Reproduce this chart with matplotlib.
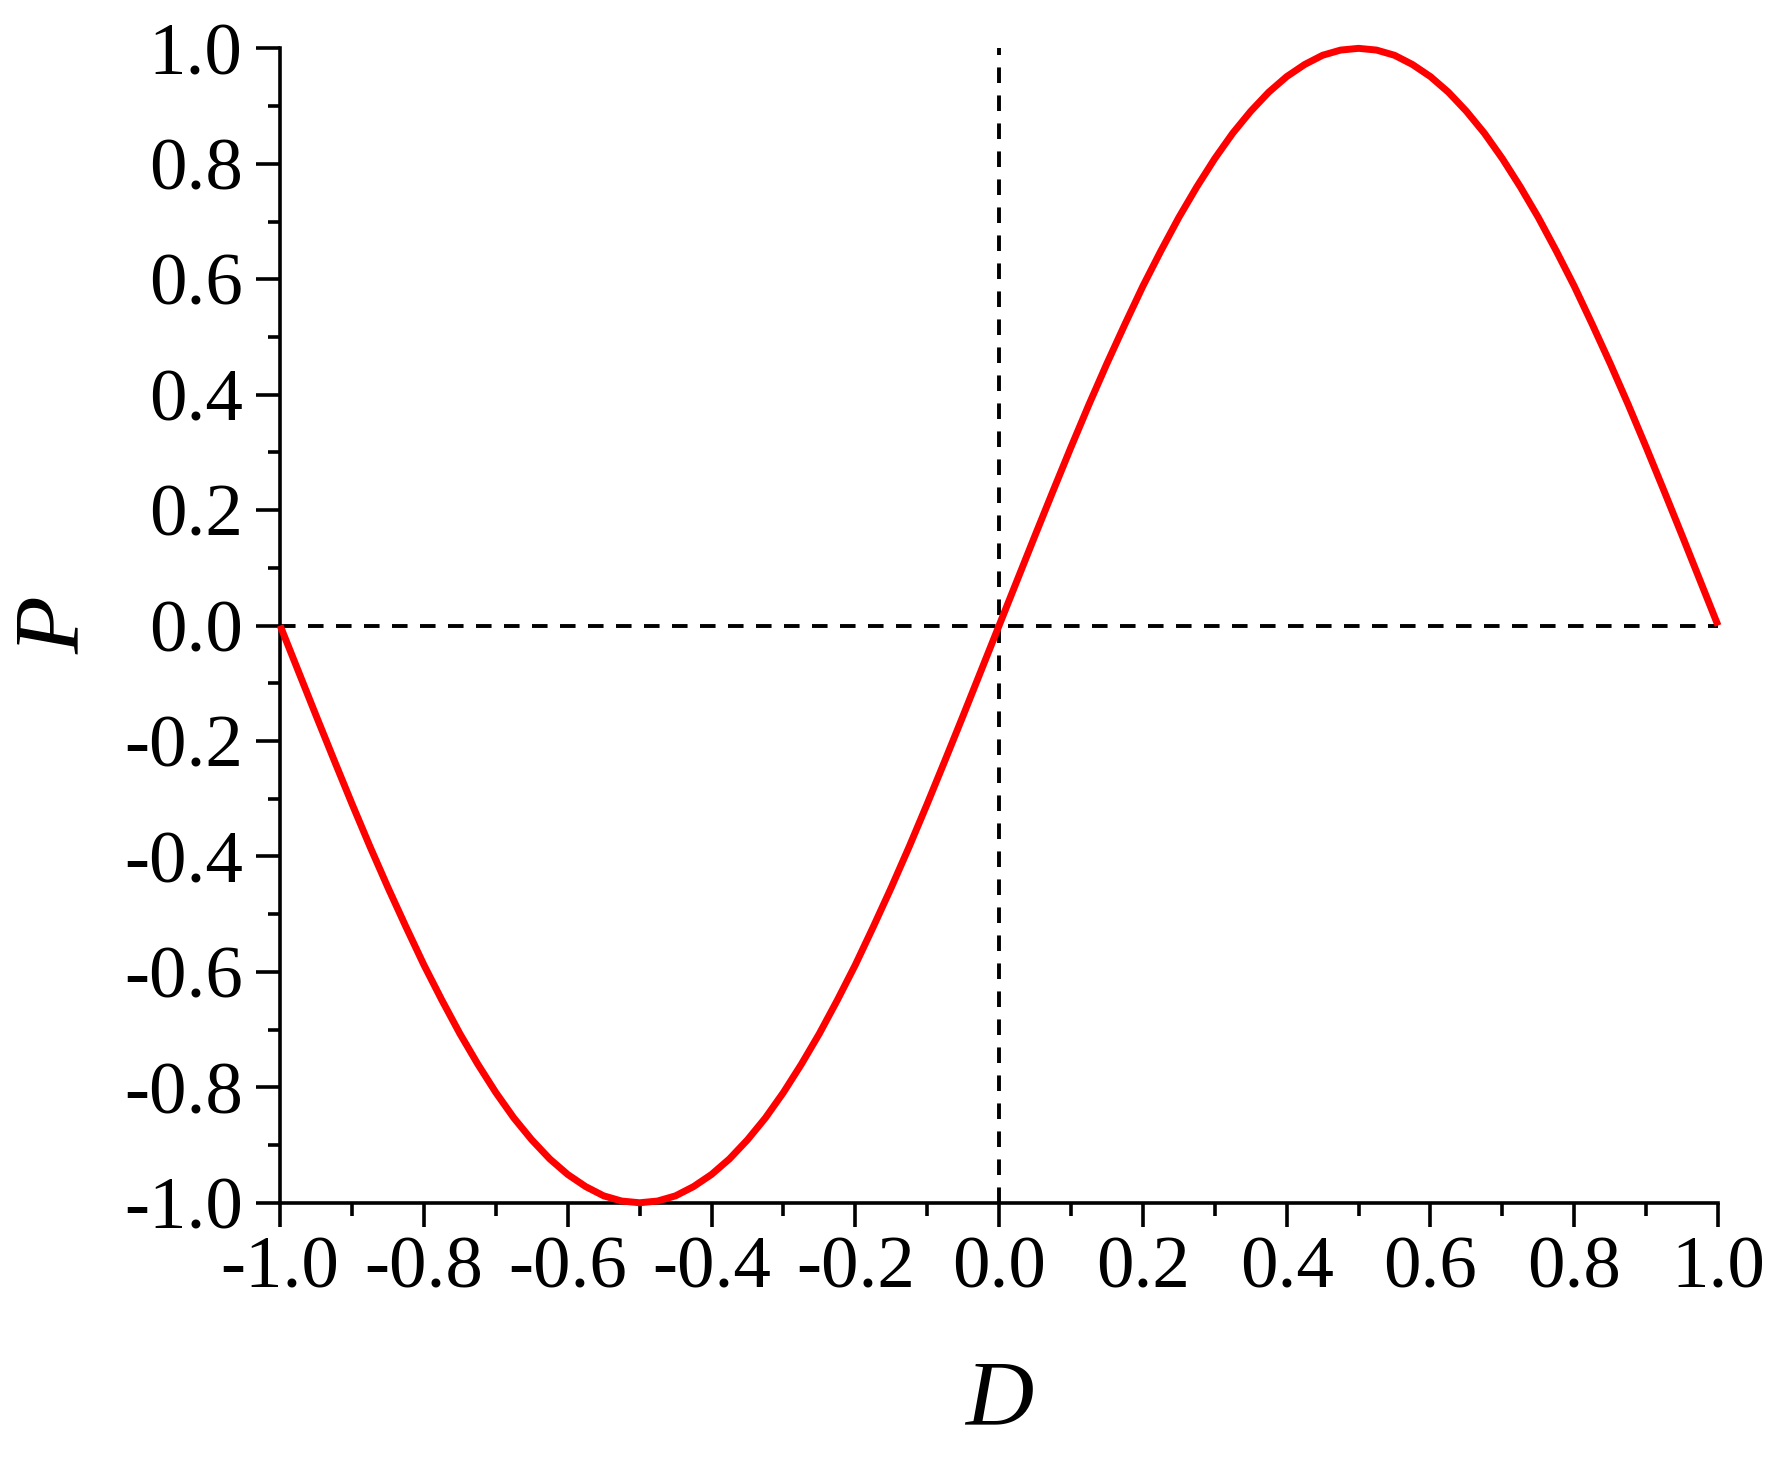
import matplotlib
matplotlib.use("Agg")
import matplotlib.pyplot as plt
from matplotlib.ticker import MultipleLocator

# valeurs (pas de 0.025)
D = [-1.0, -0.975, -0.95, -0.925, -0.9, -0.875, -0.85, -0.825, -0.8, -0.775,
     -0.75, -0.725, -0.7, -0.675, -0.65, -0.625, -0.6, -0.575, -0.55, -0.525,
     -0.5, -0.475, -0.45, -0.425, -0.4, -0.375, -0.35, -0.325, -0.3, -0.275,
     -0.25, -0.225, -0.2, -0.175, -0.15, -0.125, -0.1, -0.075, -0.05, -0.025,
     0.0, 0.025, 0.05, 0.075, 0.1, 0.125, 0.15, 0.175, 0.2, 0.225,
     0.25, 0.275, 0.3, 0.325, 0.35, 0.375, 0.4, 0.425, 0.45, 0.475,
     0.5, 0.525, 0.55, 0.575, 0.6, 0.625, 0.65, 0.675, 0.7, 0.725,
     0.75, 0.775, 0.8, 0.825, 0.85, 0.875, 0.9, 0.925, 0.95, 0.975, 1.0]
P = [0.0, -0.078, -0.156, -0.233, -0.309, -0.383, -0.454, -0.522, -0.588, -0.649,
     -0.707, -0.760, -0.809, -0.853, -0.891, -0.924, -0.951, -0.972, -0.988, -0.997,
     -1.0, -0.997, -0.988, -0.972, -0.951, -0.924, -0.891, -0.853, -0.809, -0.760,
     -0.707, -0.649, -0.588, -0.522, -0.454, -0.383, -0.309, -0.233, -0.156, -0.078,
     0.0, 0.078, 0.156, 0.233, 0.309, 0.383, 0.454, 0.522, 0.588, 0.649,
     0.707, 0.760, 0.809, 0.853, 0.891, 0.924, 0.951, 0.972, 0.988, 0.997,
     1.0, 0.997, 0.988, 0.972, 0.951, 0.924, 0.891, 0.853, 0.809, 0.760,
     0.707, 0.649, 0.588, 0.522, 0.454, 0.383, 0.309, 0.233, 0.156, 0.078, 0.0]
tick_vals = [-1.0, -0.8, -0.6, -0.4, -0.2, 0.0, 0.2, 0.4, 0.6, 0.8, 1.0]

plt.rcParams['font.family'] = ['Liberation Serif', 'DejaVu Serif']

fig = plt.figure(figsize=(17.73, 14.65), dpi=100)
ax = fig.add_axes([0.158, 0.179, 0.811, 0.788])

# lignes de référence en pointillés
ax.plot([-1, 1], [0, 0], color='black', lw=2.8, dashes=(4.0, 3.2), zorder=2)
ax.plot([0, 0], [-1, 1], color='black', lw=2.8, dashes=(4.0, 3.2), zorder=2)

ax.plot(D, P, color='#ff0000', lw=5.0, zorder=3, clip_on=False,
        solid_capstyle='butt', solid_joinstyle='round')

ax.set_xlim(-1, 1)
ax.set_ylim(-1, 1)
ax.set_xticks(tick_vals)
ax.set_yticks(tick_vals)
ax.set_xticklabels([f"{v:.1f}" for v in tick_vals])
ax.set_yticklabels([f"{v:.1f}" for v in tick_vals])
ax.xaxis.set_minor_locator(MultipleLocator(0.1))
ax.yaxis.set_minor_locator(MultipleLocator(0.1))

for s in ['top', 'right']:
    ax.spines[s].set_visible(False)
for s in ['left', 'bottom']:
    ax.spines[s].set_linewidth(2.6)

ax.tick_params(which='major', direction='out', length=17, width=2.6, labelsize=54)
ax.tick_params(which='minor', direction='out', length=9, width=2.6)
ax.tick_params(axis='x', which='major', pad=7)
ax.tick_params(axis='y', which='major', pad=10)

ax.set_xlabel('D', fontsize=68, fontstyle='italic', labelpad=40)
ax.set_ylabel('P', fontsize=68, fontstyle='italic', labelpad=18)

fig.savefig('out.png', dpi=100)
